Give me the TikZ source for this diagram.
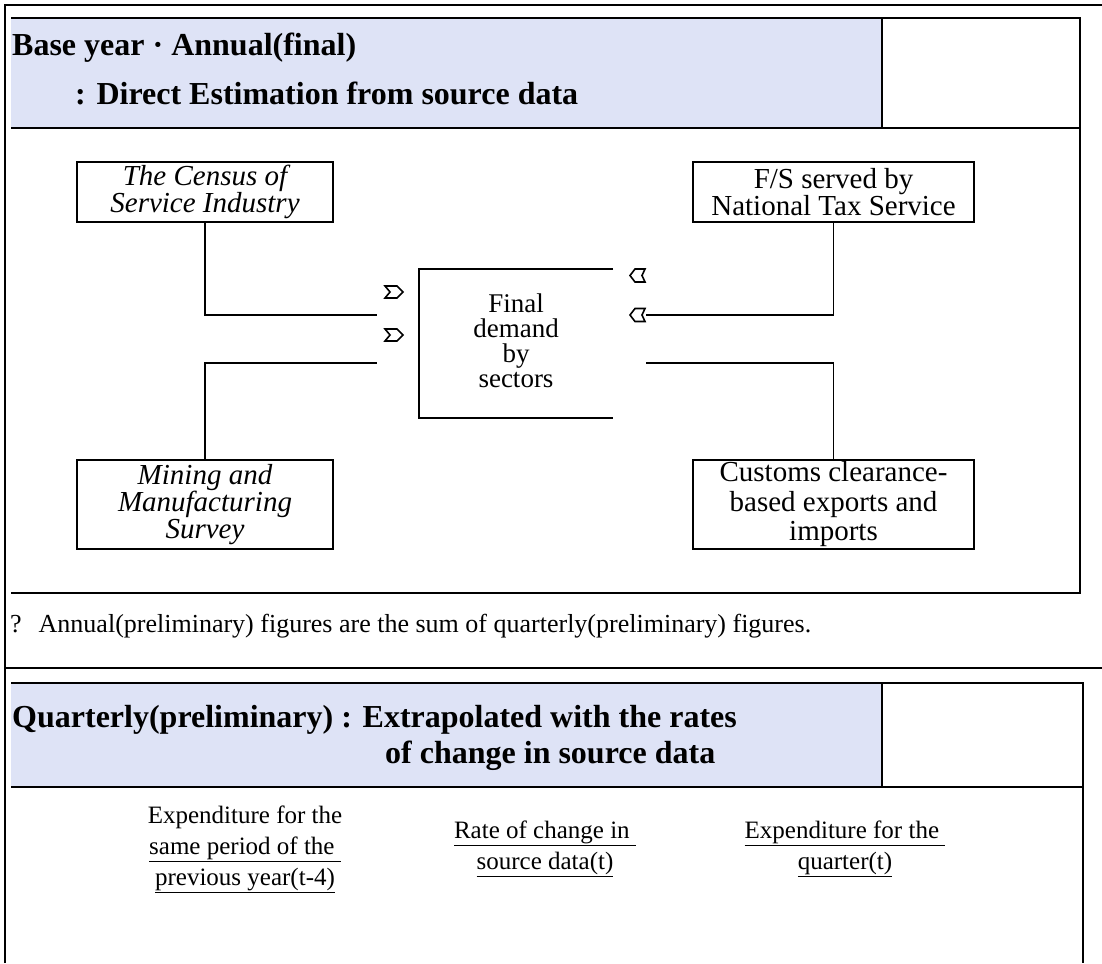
\documentclass[tikz,border=0pt]{standalone}
\usepackage{fontspec}
\setmainfont{Liberation Serif}
\definecolor{headblue}{RGB}{222,227,246}
\begin{document}
\begin{tikzpicture}[x=1pt,y=-1pt,
  frame/.style={line width=2.5pt},
  boxline/.style={line width=2.2pt},
  conn/.style={line width=1.8pt},
  chev/.style={line width=1.6pt, line join=miter},
  headtxt/.style={anchor=base west, inner sep=0pt, font=\fontsize{32}{32}\selectfont\bfseries},
  srcbox/.style={draw, line width=2pt, align=center, inner sep=0pt},
  notetxt/.style={anchor=base west, inner sep=0pt, font=\fontsize{26}{26}\selectfont},
  bottxt/.style={align=center, inner sep=0pt, font=\fontsize{25}{31}\selectfont}
]
\useasboundingbox (0,0) rectangle (1102,963);
% ---------- upper section ----------
\fill[headblue] (11,18) rectangle (882,128);
\draw[frame] (5,963) -- (5,5) -- (1102,5);
\draw[boxline] (11,18) -- (1080,18) -- (1080,593) -- (11,593);
\draw[boxline] (11,128) -- (1080,128);
\draw[boxline] (882,18) -- (882,128);
\node[headtxt] (h1a) at (12,56) {Base year · Annual(final)};
\node[headtxt] (h1b) at (75,105) {: Direct Estimation from source data};

\node[srcbox, minimum width=256pt, minimum height=60pt, font=\fontsize{29}{27}\selectfont\itshape] (census) at (205,192)
  {The Census of\\Service Industry};
\node[srcbox, minimum width=281pt, minimum height=60pt, font=\fontsize{29}{27}\selectfont] (fs) at (833.5,192)
  {F/S served by\\National Tax Service};
\node[srcbox, minimum width=256pt, minimum height=89pt, font=\fontsize{29}{26.5}\selectfont\itshape] (mining) at (205,504.5)
  {Mining and\\Manufacturing\\Survey};
\node[srcbox, minimum width=281pt, minimum height=89pt, font=\fontsize{29}{29.5}\selectfont] (customs) at (833.5,504.5)
  {Customs clearance-\\based exports and\\imports};
\node[srcbox, draw=none, minimum width=192pt, minimum height=147pt, font=\fontsize{27}{25}\selectfont] (final) at (516,341)
  {Final\\demand\\by\\sectors};
\draw[line width=2pt] ([yshift=-2.5pt]final.north east) -- ([yshift=-2.5pt]final.north west)
  -- ([yshift=-2.5pt]final.south west) -- ([yshift=-2.5pt]final.south east);

\coordinate (lu) at (377,315);
\coordinate (ll) at (377,363);
\coordinate (ru) at (646,315);
\coordinate (rl) at (646,363);
\draw[conn] (census.south) |- (lu);
\draw[conn] (mining.north) |- (ll);
\draw[conn] (fs.south) |- (ru);
\draw[conn] (customs.north) |- (rl);

% chevron marks
\draw[chev] (385,286) -- ++(12,0) -- ++(6,6) -- ++(-6,6) -- ++(-12,0) -- ++(5,-6) -- cycle;
\draw[chev] (385,329) -- ++(12,0) -- ++(6,6) -- ++(-6,6) -- ++(-12,0) -- ++(5,-6) -- cycle;
\draw[chev] (645,269) -- ++(-10,0) -- ++(-5,6.5) -- ++(5,6.5) -- ++(10,0) -- ++(-3,-6.5) -- cycle;
\draw[chev] (645,308.5) -- ++(-10,0) -- ++(-5,6.5) -- ++(5,6.5) -- ++(10,0) -- ++(-3,-6.5) -- cycle;

\node[notetxt] (note) at (10,632)
  {?\hspace{17pt}Annual(preliminary) figures are the sum of quarterly(preliminary) figures.};

% ---------- lower section ----------
\draw[frame] (5,668) -- (1102,668);
\fill[headblue] (11,683) rectangle (882,787);
\draw[boxline] (11,683) -- (1083,683) -- (1083,963);
\draw[boxline] (11,787) -- (1083,787);
\draw[boxline] (882,683) -- (882,787);
\node[headtxt] (h2a) at (12,727) {Quarterly(preliminary) : Extrapolated with the rates};
\node[headtxt] (h2b) at (385,763) {of change in source data};

\node[bottxt] (prev) at (245,849)
  {Expenditure for the\\\underline{same period of the\ }\\\underline{previous year(t-4)}};
\node[bottxt] (rate) at (545,849)
  {\underline{Rate of change in\ }\\\underline{source data(t)}};
\node[bottxt] (quart) at (845,849)
  {\underline{Expenditure for the\ }\\\underline{quarter(t)}};
\end{tikzpicture}
\end{document}
